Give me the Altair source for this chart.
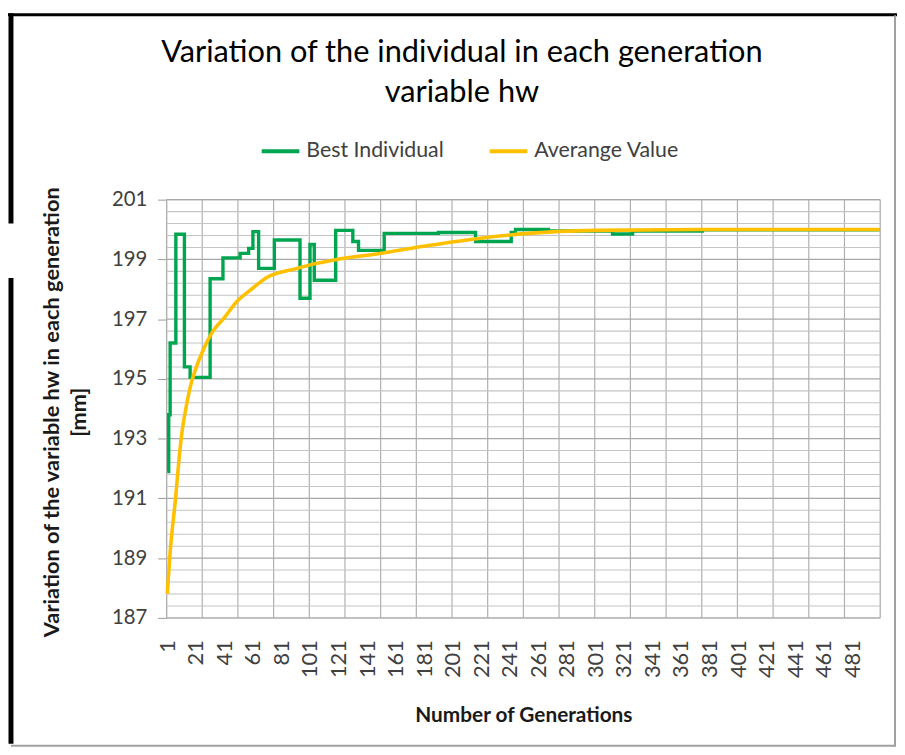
import altair as alt
import pandas as pd

# ---- data ----
# Best individual: generation at which the value changes (step line), value [mm]
best_gen = [1, 2, 3, 7, 13, 17, 31, 40, 52, 58, 61, 65, 76, 94, 101, 104, 119, 131, 135,
            153, 191, 217, 242, 245, 268, 313, 327, 376, 500]
best_val = [191.9, 193.8, 196.2, 199.84, 195.4, 195.05, 198.35, 199.05, 199.2, 199.37, 199.93,
            198.7, 199.65, 197.7, 199.5, 198.3, 199.97, 199.6, 199.3, 199.87, 199.9, 199.6,
            199.9, 200.0, 199.95, 199.85, 199.95, 199.99, 199.99]

# Average value of the population
avg_gen = [1, 3, 7, 9, 11, 14, 18, 21, 26, 33, 41, 49, 60, 71, 92, 104, 120, 150, 185, 219,
           254, 300, 375, 500]
avg_val = [187.8, 189.2, 191.1, 192.2, 193.1, 194.0, 194.9, 195.35, 195.95, 196.6, 197.05,
           197.55, 198.0, 198.4, 198.7, 198.85, 199.0, 199.2, 199.47, 199.7, 199.87, 199.97,
           200.0, 200.0]

series_names = ["Best Individual", "Averange Value"]
series_colors = ["#00A550", "#FFC000"]

x_labels = list(range(1, 500, 20))
y_major = list(range(187, 202, 2))
y_minor = [round(187 + 0.4 * k, 1) for k in range(36) if round(187 + 0.4 * k, 1) not in y_major]
x_grid = [0.5 + 25 * k for k in range(21)]

FONT = "Lato"

df = pd.concat([
    pd.DataFrame({"gen": best_gen, "val": best_val, "series": series_names[0]}),
    pd.DataFrame({"gen": avg_gen, "val": avg_val, "series": series_names[1]}),
])

xscale = alt.Scale(domain=[0.5, 500.5], nice=False, zero=False)
yscale = alt.Scale(domain=[187, 201], nice=False, zero=False)

color = alt.Color(
    "series:N",
    scale=alt.Scale(domain=series_names, range=series_colors),
    legend=alt.Legend(
        title=None, orient="none", direction="horizontal", legendX=94, legendY=-70,
        symbolType="stroke", symbolSize=1444, symbolStrokeWidth=4,
        labelFont=FONT, labelFontSize=21.5, labelColor="#404040",
        columnPadding=38, padding=0, labelOffset=5,
    ),
)

x_axis = alt.Axis(
    values=x_labels, labelAngle=270, labelAlign="right", labelBaseline="middle",
    labelPadding=22, labelOverlap=False, labelBound=False, labelFlush=False,
    ticks=False, grid=False, domain=False,
    labelFont=FONT, labelFontSize=22, labelColor="#404040",
    title="Number of Generations", titleFont=FONT, titleFontSize=21,
    titleFontWeight="bold", titleColor="#1a1a1a", titleY=105, titleBaseline="alphabetic",
)
y_axis = alt.Axis(
    values=y_major, grid=False, domain=False, ticks=True, tickSize=9, tickColor="#9a9a9a",
    labelPadding=11, labelOverlap=False, labelFont=FONT, labelFontSize=20.5, labelColor="#404040",
    title=["Variation of the variable hw in each generation", "[mm]"],
    titleFont=FONT, titleFontSize=22, titleFontWeight="bold", titleColor="#1a1a1a",
    titleAngle=270, titleX=-109, titleY=214, titleBaseline="alphabetic", titleLineHeight=27,
    titleAlign="center",
)

vgrid = alt.Chart(pd.DataFrame({"g": x_grid})).mark_rule(color="#b0b0b0", strokeWidth=1.2).encode(
    x=alt.X("g:Q", scale=xscale, axis=x_axis)
)
hminor = alt.Chart(pd.DataFrame({"v": y_minor})).mark_rule(color="#c4c4c4", strokeWidth=1.1).encode(
    y=alt.Y("v:Q", scale=yscale, axis=y_axis)
)
hmajor = alt.Chart(pd.DataFrame({"v": y_major})).mark_rule(color="#a8a8a8", strokeWidth=1.3).encode(
    y=alt.Y("v:Q", scale=yscale, axis=y_axis)
)

best = alt.Chart(df).transform_filter(alt.datum.series == series_names[0]).mark_line(
    strokeWidth=3.4, interpolate="step-after"
).encode(
    x=alt.X("gen:Q", scale=xscale, axis=x_axis),
    y=alt.Y("val:Q", scale=yscale, axis=y_axis),
    color=color,
)
avg = alt.Chart(df).transform_filter(alt.datum.series == series_names[1]).mark_line(
    strokeWidth=3.6, interpolate="monotone"
).encode(
    x=alt.X("gen:Q", scale=xscale, axis=x_axis),
    y=alt.Y("val:Q", scale=yscale, axis=y_axis),
    color=color,
)

# outer frame of the original figure
frame_top = alt.Chart().mark_rule(color="#000000", strokeWidth=3).encode(
    x=alt.value(-160), x2=alt.value(737), y=alt.value(-186.5))
frame_left1 = alt.Chart().mark_rule(color="#000000", strokeWidth=5).encode(
    x=alt.value(-157), y=alt.value(-188), y2=alt.value(24))
frame_left2 = alt.Chart().mark_rule(color="#000000", strokeWidth=5).encode(
    x=alt.value(-157), y=alt.value(79), y2=alt.value(549))
frame_right = alt.Chart().mark_rule(color="#a0a0a0", strokeWidth=2).encode(
    x=alt.value(735), y=alt.value(-186), y2=alt.value(552))
frame_bottom = alt.Chart().mark_rule(color="#a0a0a0", strokeWidth=2).encode(
    x=alt.value(-157), x2=alt.value(735), y=alt.value(551))

chart = alt.layer(
    vgrid, hminor, hmajor, best, avg,
    frame_top, frame_left1, frame_left2, frame_right, frame_bottom,
).properties(
    width=720, height=422,
    title=alt.TitleParams(
        text=["Variation of the individual in each generation", "variable hw"],
        font=FONT, fontSize=31, fontWeight="normal", color="#000000",
        anchor="middle", offset=0, dx=-62, dy=99, lineHeight=40,
    ),
    autosize=alt.AutoSizeParams(type="none"),
    padding={"left": 160, "top": 190, "right": 17, "bottom": 135},
).configure_view(stroke=None).configure_axis(labelOverlap=False).configure(background="white")

chart.save("out.html", embed_options={"renderer": "svg", "actions": False})
